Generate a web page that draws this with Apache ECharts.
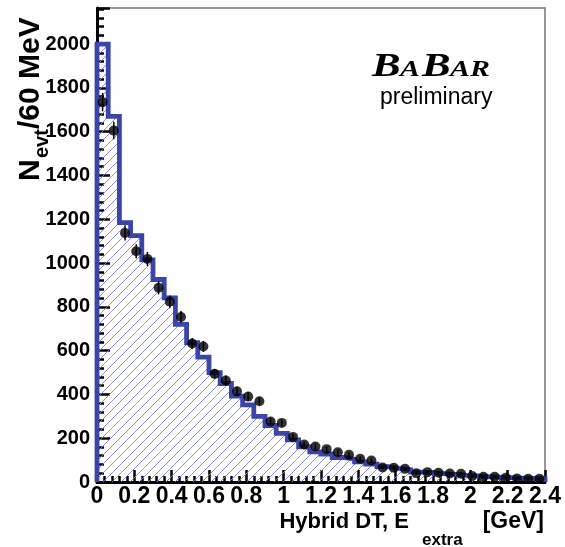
<!DOCTYPE html>
<html>
<head>
<meta charset="utf-8">
<script src="https://cdn.jsdelivr.net/npm/echarts@6/dist/echarts.min.js"></script>
<style>
  html, body { margin: 0; padding: 0; background: #fff; }
  #chart { width: 565px; height: 547px; }
</style>
</head>
<body>
<div id="chart"></div>
<script>
// Binning of the E_extra histogram: 40 bins of 60 MeV from 0 to 2.4 GeV
const binWidth = 0.06;
const binCount = 40;

// Simulated expectation (hatched histogram), events per bin
const mcCounts = [
  2000, 1670, 1185, 1125, 1015, 925, 841, 720, 636, 570,
  500, 450, 392, 352, 300, 258, 222, 192, 160, 138,
  128, 112, 104, 92, 82, 70, 62, 56, 45, 42,
  38, 35, 30, 28, 24, 22, 20, 18, 16, 15
];

// Measured events per bin (black points)
const dataCounts = [
  1735, 1605, 1137, 1054, 1019, 887, 823, 754, 633, 619,
  494, 464, 414, 390, 369, 276, 270, 206, 171, 162,
  150, 136, 124, 106, 98, 66, 65, 60, 40, 45,
  42, 39, 38, 27, 24, 24, 19, 16, 15, 15
];

// Statistical uncertainty on each measured bin
const dataErrors = [
  42, 40, 34, 32, 32, 30, 29, 27, 25, 25,
  22, 22, 20, 20, 19, 17, 16, 14, 13, 13,
  12, 12, 11, 10, 10, 8, 8, 8, 6, 7,
  6, 6, 6, 5, 5, 5, 4, 4, 4, 4
];

// Axis tick labels
const xTickLabels = ['0', '0.2', '0.4', '0.6', '0.8', '1', '1.2', '1.4', '1.6', '1.8', '2', '2.2', '2.4'];
const yTickLabels = ['0', '200', '400', '600', '800', '1000', '1200', '1400', '1600', '1800', '2000'];

const FONT = '"Liberation Sans", Arial, Helvetica, sans-serif';
const SERIF = '"Liberation Serif", "Times New Roman", serif';

// Diagonal hatch tile for the histogram fill
function makeHatch() {
  const s = 9;
  const c = document.createElement('canvas');
  c.width = s; c.height = s;
  const g = c.getContext('2d');
  g.strokeStyle = '#8080dc';
  g.lineWidth = 0.9;
  g.beginPath();
  g.moveTo(-1, s + 1); g.lineTo(s + 1, -1);
  g.moveTo(-1, 1); g.lineTo(1, -1);
  g.moveTo(s - 1, s + 1); g.lineTo(s + 1, s - 1);
  g.stroke();
  return c;
}

// Step outline points: left edge of every bin, closed down to zero on both sides
const stepPoints = [[0, 0]];
for (let i = 0; i < binCount; i++) stepPoints.push([i * binWidth, mcCounts[i]]);
stepPoints.push([binCount * binWidth, mcCounts[binCount - 1]]);
stepPoints.push([binCount * binWidth, 0]);

const points = dataCounts.map((v, i) => [(i + 0.5) * binWidth, v]);
const errorBars = dataCounts.map((v, i) => [(i + 0.5) * binWidth, v - dataErrors[i], v + dataErrors[i]]);

const chart = echarts.init(document.getElementById('chart'), null, { renderer: 'canvas' });

const babarLetters = [
  { t: 'B', size: 33, x: 372 },
  { t: 'A', size: 23, x: 400 },
  { t: 'B', size: 33, x: 422 },
  { t: 'A', size: 23, x: 450 },
  { t: 'R', size: 23, x: 470 }
];
const logoBaseline = 78;

chart.setOption({
  animation: false,
  backgroundColor: '#fff',
  grid: {
    left: 97, right: 20, top: 8, bottom: 65,
    show: true, borderColor: '#777', borderWidth: 1.5,
    containLabel: false, outerBoundsMode: 'none'
  },
  xAxis: {
    type: 'value', min: 0, max: 2.4, interval: 0.2,
    axisLine: { show: true, onZero: false, lineStyle: { color: '#000', width: 3 } },
    axisTick: { show: true, inside: true, length: 12, lineStyle: { color: '#000', width: 2.5 } },
    minorTick: { show: true, splitNumber: 5, length: 6, lineStyle: { color: '#000', width: 2.5 } },
    splitLine: { show: false },
    axisLabel: {
      color: '#000', fontFamily: FONT, fontWeight: 'bold', fontSize: 23, margin: 3,
      showMinLabel: true, showMaxLabel: true,
      formatter: v => xTickLabels[Math.round(v / 0.2)] ?? ''
    }
  },
  yAxis: {
    type: 'value', min: 0, max: 2165, interval: 200,
    axisLine: { show: true, onZero: false, lineStyle: { color: '#000', width: 3 } },
    axisTick: { show: true, inside: true, length: 13, lineStyle: { color: '#000', width: 2.5 } },
    minorTick: { show: true, splitNumber: 5, length: 7, lineStyle: { color: '#000', width: 2.5 } },
    splitLine: { show: false },
    axisLabel: {
      color: '#000', fontFamily: FONT, fontWeight: 'bold', fontSize: 20, margin: 7,
      showMaxLabel: false,
      formatter: v => (v % 200 === 0 ? (yTickLabels[v / 200] ?? '') : '')
    }
  },
  series: [
    {
      name: 'MC', type: 'line', step: 'end', data: stepPoints,
      symbol: 'none', z: 2,
      lineStyle: { color: '#3b44a8', width: 4.8, join: 'miter' },
      areaStyle: { color: { image: makeHatch(), repeat: 'repeat' }, opacity: 1 }
    },
    {
      name: 'errors', type: 'custom', data: errorBars, z: 3,
      renderItem: (params, api) => {
        const x = api.value(0);
        const lo = api.coord([x, api.value(1)]);
        const hi = api.coord([x, api.value(2)]);
        return {
          type: 'line',
          shape: { x1: lo[0], y1: lo[1], x2: hi[0], y2: hi[1] },
          style: { stroke: '#000', lineWidth: 1.5 }
        };
      }
    },
    {
      name: 'Data', type: 'scatter', data: points, z: 4,
      symbol: 'circle', symbolSize: 10,
      itemStyle: { color: '#000' }
    }
  ],
  graphic: [
    // y-axis title, reading bottom to top
    {
      type: 'group', x: 31, y: 181, rotation: Math.PI / 2,
      children: [
        { type: 'text', x: 0, y: 0, style: { text: 'N', font: 'bold 30px ' + FONT, fill: '#000', align: 'left', verticalAlign: 'middle' } },
        { type: 'text', x: 23, y: 11, style: { text: 'evt', font: 'bold 20px ' + FONT, fill: '#000', align: 'left', verticalAlign: 'middle' } },
        { type: 'text', x: 52, y: 0, style: { text: '/60 MeV', font: 'bold 30px ' + FONT, fill: '#000', align: 'left', verticalAlign: 'middle' } }
      ]
    },
    // x-axis title
    { type: 'text', x: 409, y: 522, style: { text: 'Hybrid DT, E', font: 'bold 22px ' + FONT, fill: '#000', align: 'right', verticalAlign: 'middle' } },
    { type: 'text', x: 422, y: 540, style: { text: 'extra', font: 'bold 17px ' + FONT, fill: '#000', align: 'left', verticalAlign: 'middle' } },
    { type: 'text', x: 544, y: 522, style: { text: '[GeV]', font: 'bold 23px ' + FONT, fill: '#000', align: 'right', verticalAlign: 'middle' } },
    // experiment logo
    ...babarLetters.map(l => ({
      type: 'text', x: l.x, y: logoBaseline - 0.33 * l.size, scaleX: 1.3,
      style: { text: l.t, font: 'italic bold ' + l.size + 'px ' + SERIF, fill: '#000', align: 'left', verticalAlign: 'middle' }
    })),
    { type: 'text', x: 380, y: 98, style: { text: 'preliminary', font: '23px ' + FONT, fill: '#000', align: 'left', verticalAlign: 'middle' } }
  ]
});
</script>
</body>
</html>
